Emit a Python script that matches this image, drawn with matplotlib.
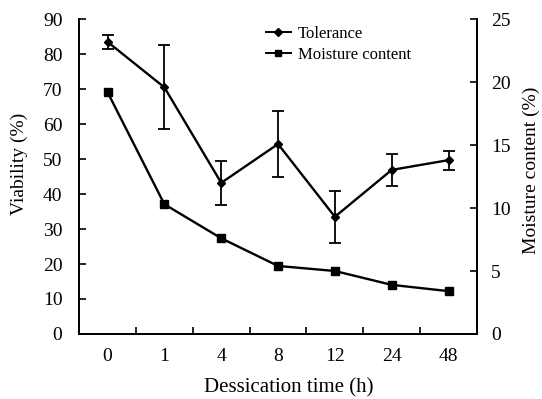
import matplotlib
matplotlib.use("Agg")
import matplotlib.pyplot as plt
from matplotlib.lines import Line2D

plt.rcParams['font.family'] = ['Liberation Serif', 'DejaVu Serif']

# data
times = ['0', '1', '4', '8', '12', '24', '48']
tolerance = [83.5, 70.5, 43.2, 54.3, 33.5, 46.9, 49.7]
tolerance_err = [2.0, 12.0, 6.3, 9.4, 7.5, 4.5, 2.7]
moisture = [19.2, 10.3, 7.6, 5.4, 5.0, 3.9, 3.4]

x = list(range(len(times)))

fig = plt.figure(figsize=(5.42, 3.99), dpi=100)
ax = fig.add_axes([0.146, 0.163, 0.734, 0.789])
ax2 = ax.twinx()

ax.errorbar(x, tolerance, yerr=tolerance_err, color='black', lw=1.7,
            marker='D', ms=4, capsize=4, elinewidth=1.3, capthick=1.3, zorder=3)
ax2.plot(x, moisture, color='black', lw=1.7, marker='s', ms=5.5, zorder=3)

ax.set_xlim(-0.5, len(times) - 0.5)
ax.set_ylim(0, 90)
ax2.set_ylim(0, 25)
ax.set_yticks(range(0, 91, 10))
ax2.set_yticks(range(0, 26, 5))

# category labels at centers, tick marks between categories
ax.set_xticks(x)
ax.set_xticklabels(times)
ax.tick_params(axis='x', length=0, pad=10, labelsize=14)
ax.set_xticks([i + 0.5 for i in x[:-1]], minor=True)
ax.tick_params(axis='x', which='minor', direction='in', length=5, width=1.2)

ax.tick_params(axis='y', direction='in', length=5, width=1.2, pad=12, labelsize=14)
ax2.tick_params(axis='y', direction='in', length=5, width=1.2, pad=10, labelsize=14)

for a in (ax, ax2):
    a.spines['top'].set_visible(False)
    for s in ('left', 'right', 'bottom'):
        a.spines[s].set_linewidth(1.3)

ax.set_xlabel('Dessication time (h)', fontsize=15)
ax.xaxis.set_label_coords(0.528, -0.14)
ax.set_ylabel('Viability (%)', fontsize=14)
ax.yaxis.set_label_coords(-0.128, 0.54)
ax2.set_ylabel('Moisture content (%)', fontsize=14)
ax2.yaxis.set_label_coords(1.115, 0.52)

handles = [Line2D([], [], color='black', lw=1.4, marker='D', ms=4),
           Line2D([], [], color='black', lw=1.4, marker='s', ms=5)]
ax.legend(handles, ['Tolerance', 'Moisture content'],
          loc='upper left', bbox_to_anchor=(0.432, 1.025), frameon=False,
          fontsize=12, handlelength=1.5, handletextpad=0.4, labelspacing=0.3)

fig.savefig('out.png', dpi=100)
